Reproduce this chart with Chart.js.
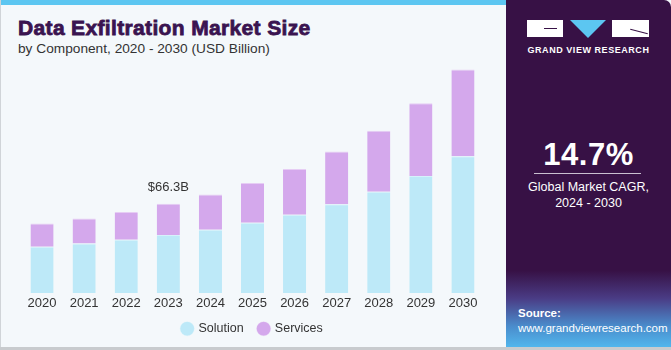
<!DOCTYPE html>
<html lang="en">
<head>
  <meta charset="UTF-8">
  <title>Data Exfiltration Market Size</title>
  <script src="https://cdn.jsdelivr.net/npm/chart.js"></script>
  <style>
    html, body { margin: 0; padding: 0; background: #ffffff; }
    #card {
      position: relative; width: 671px; height: 350px; overflow: hidden;
      background: #f4f8fb; font-family: "Liberation Sans", Arial, sans-serif;
    }
    #card .edge-left { position: absolute; left: 0; top: 0; width: 1px; height: 350px; background: #d0d4d8; }
    #card .edge-bottom { position: absolute; left: 0; bottom: 0; width: 671px; height: 3px; background: #c8cbce; }
    #stripe { position: absolute; left: 0; top: 0; width: 506px; height: 5px; background: #5cc6f1; }
    #title {
      position: absolute; left: 18px; top: 16px; margin: 0;
      font-size: 21px; font-weight: bold; color: #3a1450; letter-spacing: 0.35px;
      -webkit-text-stroke: 0.8px #3a1450;
    }
    #subtitle { position: absolute; left: 18px; top: 41px; font-size: 13.7px; color: #333; }
    #chartBox { position: absolute; left: 0; top: 60px; width: 506px; height: 287px; }
    #side {
      position: absolute; left: 506px; top: 0; width: 165px; height: 347px;
      border-top-right-radius: 7px;
      background: linear-gradient(to bottom, #371145 0%, #371145 78%, #4a3c85 86%, #4a8ccc 94%, #52b6ec 100%);
      color: #fff; text-align: center;
    }
    .blk { position: absolute; top: 20px; height: 17px; background: #fff; }
    .notch { position: absolute; height: 1px; background: #371145; }
    .tri {
      position: absolute; top: 20px; left: 64px; width: 0; height: 0;
      border-left: 18px solid transparent; border-right: 18px solid transparent;
      border-top: 18px solid #5cc6f1;
    }
    #side .brand { position: absolute; top: 45px; left: 0; width: 165px; font-size: 9px; font-weight: bold; letter-spacing: 0.55px; }
    #side .big { position: absolute; top: 137px; left: 0; width: 165px; font-size: 31px; font-weight: bold; letter-spacing: 0.5px; }
    #side .rule { position: absolute; top: 173px; left: 28px; width: 107px; height: 1px; background: #c9bfd0; }
    #side .cagr { position: absolute; top: 179px; left: 0; width: 165px; font-size: 12.5px; line-height: 16px; }
    #side .src { position: absolute; top: 306px; left: 12px; text-align: left; font-size: 11.5px; line-height: 15px; }
  </style>
</head>
<body>
  <div id="card">
    <div id="stripe"></div>
    <h1 id="title">Data Exfiltration Market Size</h1>
    <div id="subtitle">by Component, 2020 - 2030 (USD Billion)</div>
    <div id="chartBox"><canvas id="marketChart" width="506" height="287"></canvas></div>
    <div id="side">
      <div class="blk" style="left:21px; width:36px"></div>
      <div class="notch" style="left:38px; top:28px; width:13px"></div>
      <div class="tri"></div>
      <div class="blk" style="left:106px; width:37px"></div>
      <div class="notch" style="left:124px; top:31px; width:18px; transform: rotate(14deg)"></div>
      <div class="brand">GRAND VIEW RESEARCH</div>
      <div class="big">14.7%</div>
      <div class="rule"></div>
      <div class="cagr">Global Market CAGR,<br>2024 - 2030</div>
      <div class="src"><b>Source:</b><br>www.grandviewresearch.com</div>
    </div>
    <div class="edge-left"></div>
    <div class="edge-bottom"></div>
  </div>

  <script>
    // values (USD billion)
    const years = ['2020', '2021', '2022', '2023', '2024', '2025', '2026', '2027', '2028', '2029', '2030'];
    const solution = [34.3, 36.7, 39.5, 43.0, 46.9, 52.1, 58.1, 65.8, 75.2, 86.9, 101.5];
    const services = [17.3, 18.6, 20.6, 23.3, 26.1, 29.6, 34.0, 39.3, 45.2, 53.9, 64.4];
    const labelYear = '2023';
    const labelText = '$66.3B';

    // draws the single value callout over the 2023 bar
    const callout = {
      id: 'callout',
      afterDatasetsDraw(chart) {
        const i = years.indexOf(labelYear);
        const x = chart.scales.x.getPixelForValue(i);
        const y = chart.scales.y.getPixelForValue(solution[i] + services[i]);
        const ctx = chart.ctx;
        ctx.save();
        ctx.font = '13px "Liberation Sans", Arial, sans-serif';
        ctx.fillStyle = '#333';
        ctx.textAlign = 'center';
        ctx.textBaseline = 'middle';
        ctx.fillText(labelText, x, y - 16);
        ctx.restore();
      }
    };

    new Chart(document.getElementById('marketChart'), {
      type: 'bar',
      data: {
        labels: years,
        datasets: [
          {
            label: 'Solution',
            data: solution,
            backgroundColor: '#bde9f8',
            borderColor: '#d6f2fb',
            borderWidth: { top: 1 },
            borderSkipped: false
          },
          {
            label: 'Services',
            data: services,
            backgroundColor: '#d4a8ec',
            borderColor: '#e6cdf4',
            borderWidth: { top: 1 },
            borderSkipped: false
          }
        ]
      },
      options: {
        responsive: false,
        animation: false,
        layout: { padding: { left: 21, right: 22, top: 0, bottom: 2 } },
        datasets: { bar: { categoryPercentage: 1, barPercentage: 0.55 } },
        plugins: {
          legend: {
            position: 'bottom',
            // empty title with negative padding: wide gap between items
            // without the legend growing taller
            title: { display: true, text: '', font: { size: 1, lineHeight: 1 }, padding: { top: 0, bottom: -8 } },
            labels: {
              usePointStyle: true,
              pointStyle: 'circle',
              boxWidth: 10,
              boxHeight: 10,
              padding: 15,
              color: '#333',
              font: { family: '"Liberation Sans", Arial, sans-serif', size: 12.5 }
            }
          },
          tooltip: { enabled: false }
        },
        scales: {
          x: {
            stacked: true,
            border: { display: false },
            grid: { display: false, drawTicks: false },
            ticks: { padding: 3, color: '#333', font: { family: '"Liberation Sans", Arial, sans-serif', size: 13 } }
          },
          y: {
            stacked: true,
            display: false,
            min: 0,
            max: 173
          }
        }
      },
      plugins: [callout]
    });
  </script>
</body>
</html>
